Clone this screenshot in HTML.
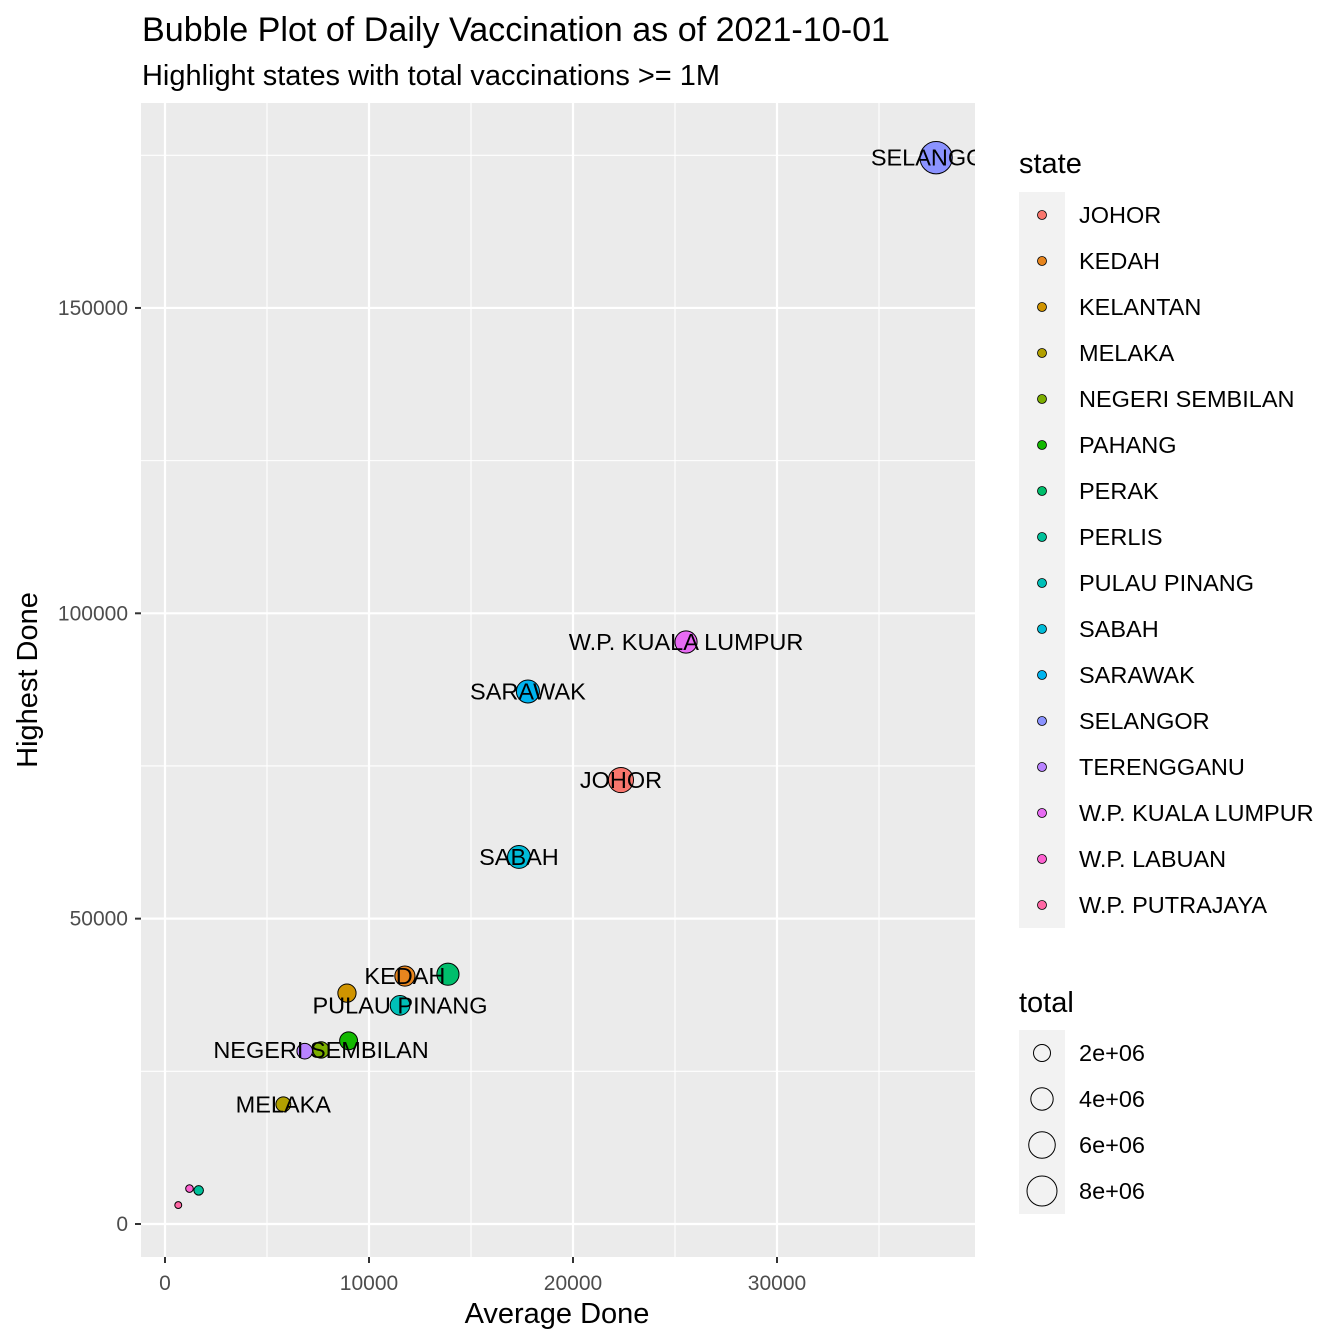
<!DOCTYPE html>
<html><head><meta charset="utf-8"><style>body{margin:0;background:#fff}svg{display:block;font-family:"Liberation Sans",Arial,sans-serif}</style></head>
<body>
<svg id="c" width="1344" height="1344"></svg>
<script>
const states=["JOHOR","KEDAH","KELANTAN","MELAKA","NEGERI SEMBILAN","PAHANG","PERAK","PERLIS","PULAU PINANG","SABAH","SARAWAK","SELANGOR","TERENGGANU","W.P. KUALA LUMPUR","W.P. LABUAN","W.P. PUTRAJAYA"];
const colors=["#F8766D","#E7851E","#D09400","#B2A000","#7CAE00","#12B800","#00BE6C","#00C19A","#00C0B8","#00BCD8","#00B4EF","#8B93FF","#B983FF","#E76BF3","#FD61D1","#FF67A4"];
const avgDone=[22350,11760,8920,5800,7650,9000,13870,1650,11520,17350,17790,37800,6850,25540,1200,650];
const highDone=[72700,40600,37800,19600,28500,30000,40900,5500,35800,60100,87200,174600,28300,95300,5800,3100];
const totals=[5.3e6,3.1e6,2.4e6,1.4e6,1.8e6,2.3e6,3.9e6,0.36e6,2.9e6,4.2e6,4.3e6,9.5e6,1.6e6,3.9e6,0.15e6,0.1e6];
const labeled=[1,1,0,1,1,0,0,0,1,1,1,1,0,1,0,0];
const xTicks=[0,10000,20000,30000];
const yTicks=[0,50000,100000,150000];
const sizeBreaks=[2e6,4e6,6e6,8e6];
const sizeLabels=["2e+06","4e+06","6e+06","8e+06"];
const NS="http://www.w3.org/2000/svg",svg=document.getElementById('c');
const X=v=>165+v*0.0204, Y=v=>1224-v*0.006107, R=t=>2+13*Math.sqrt(t/8e6);
function el(tag,a,p){const e=document.createElementNS(NS,tag);for(const k in a)e.setAttribute(k,a[k]);(p||svg).appendChild(e);return e;}
function tx(s,a,p){const e=el('text',a,p);e.textContent=s;return e;}
const defs=el('defs',{});const cp=el('clipPath',{id:'pc'},defs);el('rect',{x:141,y:103,width:834,height:1154},cp);
const panel=el('rect',{x:141,y:103,width:834,height:1154,fill:'#EBEBEB'});

for(let i=0;i<xTicks.length;i++){const v=xTicks[i];
 el('line',{x1:X(v+5000),x2:X(v+5000),y1:103,y2:1257,stroke:'#fff','stroke-width':1.1});
 el('line',{x1:X(v),x2:X(v),y1:103,y2:1257,stroke:'#fff','stroke-width':2.2});
 el('line',{x1:X(v),x2:X(v),y1:1257,y2:1263,stroke:'#333','stroke-width':2});
 const t=tx(String(v),{x:X(v),y:1290,'font-size':21,fill:'#4d4d4d','text-anchor':'middle'});
 }
for(let i=0;i<yTicks.length;i++){const v=yTicks[i];
 el('line',{x1:141,x2:975,y1:Y(v+25000),y2:Y(v+25000),stroke:'#fff','stroke-width':1.1});
 el('line',{x1:141,x2:975,y1:Y(v),y2:Y(v),stroke:'#fff','stroke-width':2.2});
 el('line',{x1:135,x2:141,y1:Y(v),y2:Y(v),stroke:'#333','stroke-width':2});
 const t=tx(String(v),{x:128,y:Y(v)+7,'font-size':21,fill:'#4d4d4d','text-anchor':'end'});
 }
const g=el('g',{'clip-path':'url(#pc)'});
for(let i=0;i<states.length;i++){
 const c=el('circle',{cx:X(avgDone[i]),cy:Y(highDone[i]),r:R(totals[i]),fill:colors[i],stroke:'#000','stroke-width':1},g);
 
 }
for(let i=0;i<states.length;i++){if(!labeled[i])continue;
 const t=tx(states[i],{x:X(avgDone[i]),y:Y(highDone[i])+8,'font-size':23.5,fill:'#000','text-anchor':'middle'},g);
 }
let t=tx('Bubble Plot of Daily Vaccination as of 2021-10-01',{x:142,y:41,'font-size':34,fill:'#000',textLength:748,lengthAdjust:'spacingAndGlyphs'});

t=tx('Highlight states with total vaccinations >= 1M',{x:142,y:85,'font-size':28.5,fill:'#000',textLength:578,lengthAdjust:'spacingAndGlyphs'});

t=tx('Average Done',{x:557,y:1323,'font-size':29,fill:'#000','text-anchor':'middle'});

t=tx('Highest Done',{x:0,y:0,'font-size':29,fill:'#000','text-anchor':'middle',transform:'translate(37,680) rotate(-90)'});

t=tx('state',{x:1019,y:173,'font-size':29,fill:'#000'});

el('rect',{x:1019,y:192,width:46,height:736,fill:'#F2F2F2'});
for(let i=0;i<states.length;i++){const yy=215+46*i;
 const c=el('circle',{cx:1042,cy:yy,r:4.5,fill:colors[i],stroke:'#000','stroke-width':0.8});
 
 const l=tx(states[i],{x:1079,y:yy+8,'font-size':23.5,fill:'#000'});
 }
t=tx('total',{x:1019,y:1012,'font-size':29,fill:'#000'});

el('rect',{x:1019,y:1030,width:46,height:184,fill:'#F2F2F2'});
for(let i=0;i<sizeBreaks.length;i++){const yy=1053+46*i;
 const c=el('circle',{cx:1042,cy:yy,r:R(sizeBreaks[i]),fill:'none',stroke:'#000','stroke-width':1});
 
 const l=tx(sizeLabels[i],{x:1079,y:yy+8,'font-size':23.5,fill:'#000'});
 }
</script>
</body></html>
